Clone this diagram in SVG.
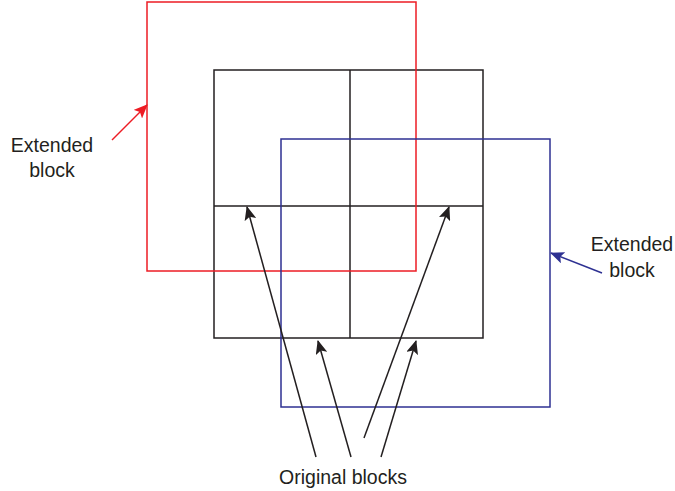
<svg xmlns="http://www.w3.org/2000/svg" width="675" height="491" viewBox="0 0 675 491">
<style>
.t{font-family:"Liberation Sans",Arial,sans-serif;font-size:19.5px;fill:#231f20;text-anchor:middle}
.k{stroke:#231f20;stroke-width:1.5;fill:none}
</style>
<defs>
<marker id="ak" markerUnits="userSpaceOnUse" markerWidth="14" markerHeight="12" viewBox="0 0 14 12" refX="13" refY="6" orient="auto"><path d="M0,0 L14,6 L0,12 L3,6 Z" fill="#231f20"/></marker>
<marker id="ar" markerUnits="userSpaceOnUse" markerWidth="14" markerHeight="12" viewBox="0 0 14 12" refX="13" refY="6" orient="auto"><path d="M0,0 L14,6 L0,12 L3,6 Z" fill="#ed1c24"/></marker>
<marker id="ab" markerUnits="userSpaceOnUse" markerWidth="14" markerHeight="12" viewBox="0 0 14 12" refX="13" refY="6" orient="auto"><path d="M0,0 L14,6 L0,12 L3,6 Z" fill="#2e3192"/></marker>
</defs>
<g id="original-grid">
<rect class="k" x="214" y="70" width="269" height="268"/>
<line class="k" x1="350" y1="70" x2="350" y2="338"/>
<line class="k" x1="214" y1="206" x2="483" y2="206"/>
</g>
<g id="extended-red">
<rect x="147" y="2" width="269" height="269" fill="none" stroke="#ed1c24" stroke-width="1.5"/>
</g>
<g id="extended-blue">
<rect x="281" y="139" width="269" height="268" fill="none" stroke="#2e3192" stroke-width="1.5"/>
</g>
<g id="connectors">
<line x1="112" y1="140" x2="147" y2="105" stroke="#ed1c24" stroke-width="1.5" marker-end="url(#ar)"/>
<line x1="602" y1="273" x2="551" y2="253" stroke="#2e3192" stroke-width="1.5" marker-end="url(#ab)"/>
<line class="k" x1="316" y1="457" x2="247" y2="207" marker-end="url(#ak)"/>
<line class="k" x1="351" y1="457" x2="318" y2="341" marker-end="url(#ak)"/>
<line class="k" x1="381" y1="457" x2="416" y2="341" marker-end="url(#ak)"/>
<line class="k" x1="364" y1="438" x2="449" y2="207" marker-end="url(#ak)"/>
</g>
<g id="label-left">
<text class="t" x="52" y="152">Extended</text>
<text class="t" x="52" y="177">block</text>
</g>
<g id="label-right">
<text class="t" x="632" y="251">Extended</text>
<text class="t" x="632" y="277">block</text>
</g>
<g id="label-bottom">
<text class="t" x="343" y="484">Original blocks</text>
</g>
</svg>
